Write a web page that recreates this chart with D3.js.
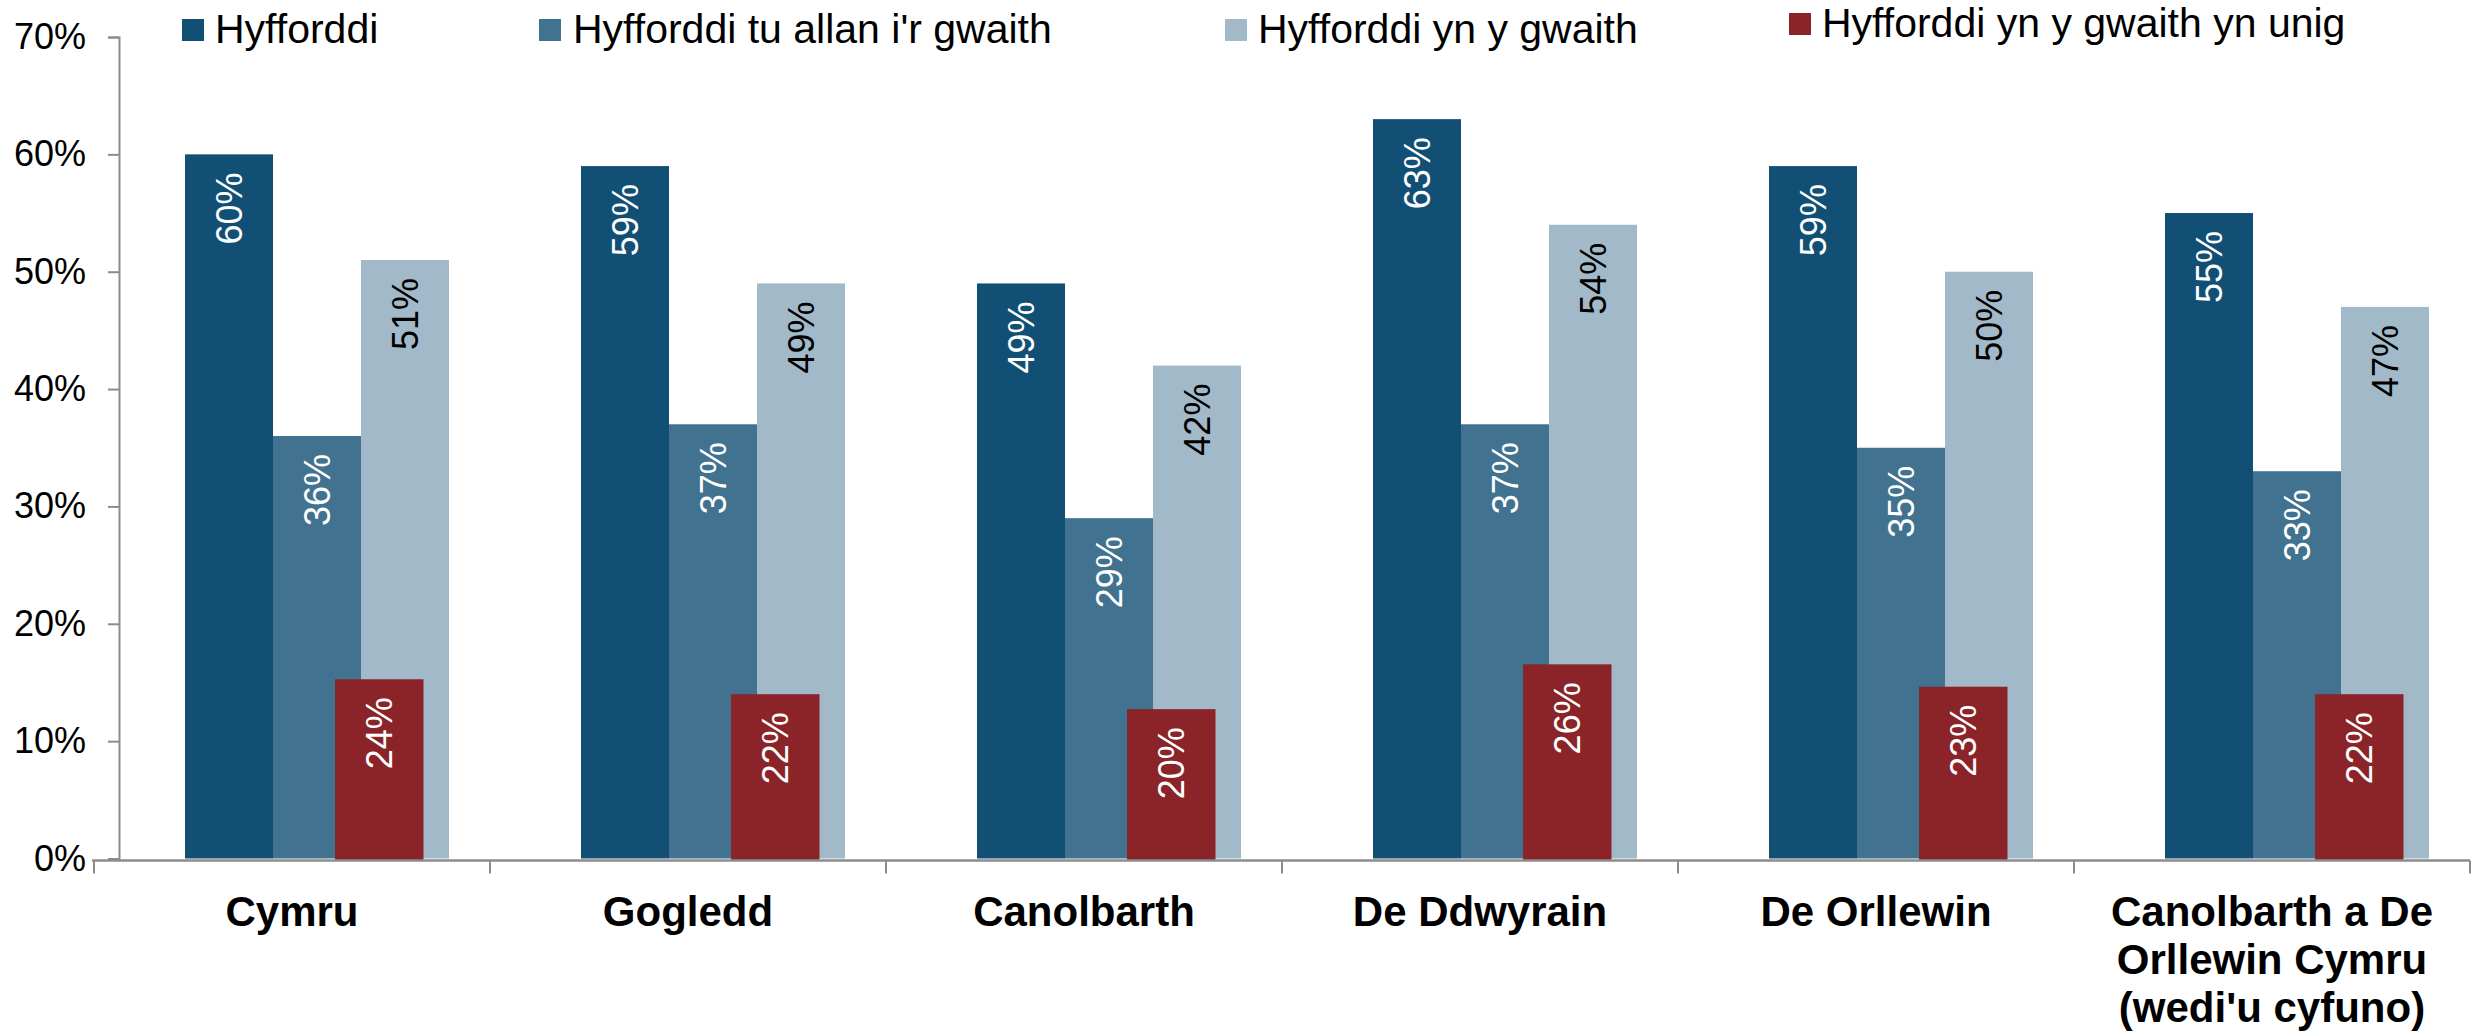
<!DOCTYPE html>
<html>
<head>
<meta charset="utf-8">
<script src="https://cdn.jsdelivr.net/npm/d3@7"></script>
<style>
  html, body { margin: 0; padding: 0; background: #ffffff; }
  svg { display: block; font-family: "Liberation Sans", Arial, Helvetica, sans-serif; }
</style>
</head>
<body>
<svg id="chart" width="2481" height="1031"></svg>
<script>
// ---- Data ----
const categories = ["Cymru", "Gogledd", "Canolbarth", "De Ddwyrain", "De Orllewin", "Canolbarth a De Orllewin Cymru (wedi'u cyfuno)"];
const categoryLines = [["Cymru"], ["Gogledd"], ["Canolbarth"], ["De Ddwyrain"], ["De Orllewin"], ["Canolbarth a De", "Orllewin Cymru", "(wedi'u cyfuno)"]];
const seriesNames = ["Hyfforddi", "Hyfforddi tu allan i'r gwaith", "Hyfforddi yn y gwaith", "Hyfforddi yn y gwaith yn unig"];
const hyfforddi = [60, 59, 49, 63, 59, 55];
const tuAllan = [36, 37, 29, 37, 35, 33];
const ynYGwaith = [51, 49, 42, 54, 50, 47];
const ynUnig = [24, 22, 20, 26, 23, 22];   // plotted on a secondary axis (0–110%)
const yTicks = [0, 10, 20, 30, 40, 50, 60, 70];
const colors = ["#114f74", "#41728f", "#a2b9c9", "#8b2429"];
const labelColors = ["#ffffff", "#ffffff", "#000000", "#ffffff"];

const svg = d3.select("#chart");

// ---- Scales ----
const x0 = d3.scaleBand().domain(categories).range([94, 2470]).paddingInner(0).paddingOuter(0);
const bw = x0.bandwidth();
const primaryKeys = [0, 1, 2];
const x1 = d3.scaleBand().domain(primaryKeys).range([bw * 0.2298, bw * 0.8965]).padding(0);
const xr = d3.scaleBand().domain([3]).range([bw * 0.6086, bw * 0.8321]).padding(0);
const y = d3.scaleLinear().domain([0, 70]).range([858.5, 37]);
const y2 = d3.scaleLinear().domain([0, 110]).range([858.5, 37]);

const axisColor = "#8c8c8c";

// ---- Y axis ----
const yAxis = d3.axisLeft(y).tickValues(yTicks).tickSize(11).tickPadding(22).tickFormat(d => d + "%");
const gy = svg.append("g").attr("transform", "translate(119,0)").call(yAxis);
gy.select(".domain").attr("stroke", axisColor).attr("stroke-width", 2);
gy.selectAll(".tick line").attr("stroke", axisColor).attr("stroke-width", 2);
gy.selectAll(".tick text").attr("font-size", 36).attr("fill", "#000").attr("font-family", "'Liberation Sans', Arial, sans-serif");

// ---- Bars ----
const allSeries = [hyfforddi, tuAllan, ynYGwaith];
const groups = svg.append("g");
categories.forEach((c, i) => {
  const g = groups.append("g").attr("transform", `translate(${x0(c)},0)`);
  primaryKeys.forEach(k => {
    const v = allSeries[k][i];
    g.append("rect")
      .attr("x", x1(k)).attr("width", x1.bandwidth())
      .attr("y", y(v)).attr("height", y(0) - y(v))
      .attr("fill", colors[k]);
  });
  const rv = ynUnig[i];
  g.append("rect")
    .attr("x", xr(3)).attr("width", xr.bandwidth())
    .attr("y", y2(rv)).attr("height", y2(0) - y2(rv) + 2)
    .attr("fill", colors[3]);
  // labels
  primaryKeys.forEach(k => {
    const v = allSeries[k][i];
    g.append("text")
      .attr("transform", `translate(${x1(k) + x1.bandwidth() / 2},${y(v) + 18}) rotate(-90)`)
      .attr("text-anchor", "end").attr("dy", "0.36em")
      .attr("font-size", 36).attr("fill", labelColors[k])
      .text(v + "%");
  });
  g.append("text")
    .attr("transform", `translate(${xr(3) + xr.bandwidth() / 2},${y2(rv) + 18}) rotate(-90)`)
    .attr("text-anchor", "end").attr("dy", "0.36em")
    .attr("font-size", 36).attr("fill", labelColors[3])
    .text(rv + "%");
});

// ---- X axis ----
const xAxisG = svg.append("g").attr("transform", "translate(0,860.5)");
xAxisG.append("line").attr("x1", x0.range()[0] - 2).attr("x2", x0.range()[1]).attr("y1", 0).attr("y2", 0)
  .attr("stroke", axisColor).attr("stroke-width", 2.5);
const seps = categories.map(c => x0(c)).concat([x0.range()[1]]);
xAxisG.selectAll("line.sep").data(seps).enter().append("line")
  .attr("class", "sep").attr("x1", d => d).attr("x2", d => d).attr("y1", 0).attr("y2", 13)
  .attr("stroke", axisColor).attr("stroke-width", 2);

categories.forEach((c, i) => {
  const t = svg.append("text")
    .attr("x", x0(c) + bw / 2).attr("y", 926)
    .attr("text-anchor", "middle").attr("font-size", 42).attr("font-weight", "bold").attr("fill", "#000");
  categoryLines[i].forEach((line, j) => {
    t.append("tspan").attr("x", x0(c) + bw / 2).attr("y", 926 + j * 48).text(line);
  });
});

// ---- Legend ----
const legendPos = [
  { sx: 182, sy: 19, tx: 215, ty: 43 },
  { sx: 539, sy: 19, tx: 573, ty: 43 },
  { sx: 1225, sy: 19, tx: 1258, ty: 43 },
  { sx: 1789, sy: 13, tx: 1822, ty: 37 }
];
seriesNames.forEach((name, k) => {
  const p = legendPos[k];
  svg.append("rect").attr("x", p.sx).attr("y", p.sy).attr("width", 22).attr("height", 22).attr("fill", colors[k]);
  svg.append("text").attr("x", p.tx).attr("y", p.ty).attr("font-size", 41).attr("fill", "#000").text(name);
});
</script>
</body>
</html>
